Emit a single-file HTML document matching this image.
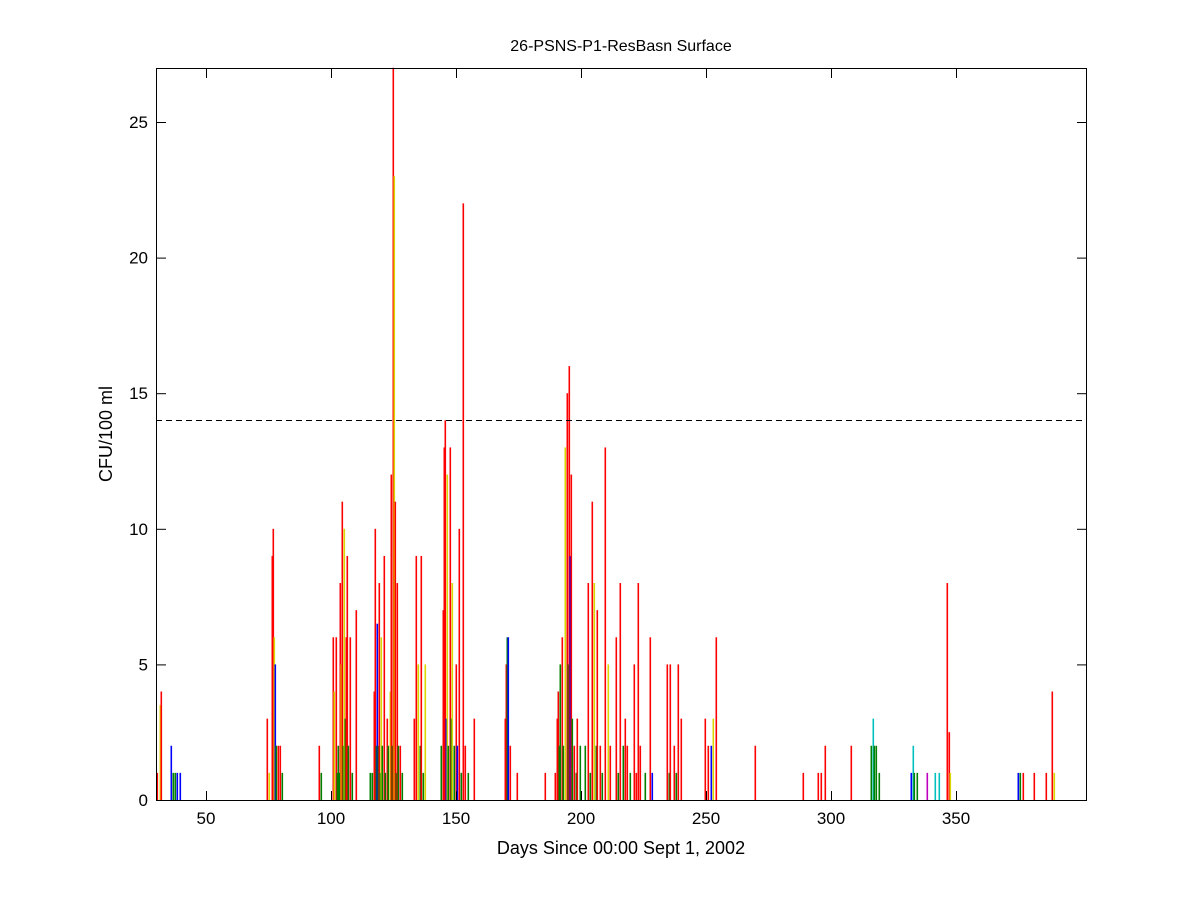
<!DOCTYPE html>
<html><head><meta charset="utf-8"><style>
html,body{margin:0;padding:0;background:#fff;}
svg{display:block;font-family:"Liberation Sans",Arial,sans-serif;}
</style></head><body>
<svg id="s" width="1200" height="900" viewBox="0 0 1200 900" xmlns="http://www.w3.org/2000/svg">
<rect x="0" y="0" width="1200" height="900" fill="#fff"/>
<g id="bars"></g>
<line x1="156" y1="420.5" x2="1086" y2="420.5" stroke="#000" stroke-width="1" stroke-dasharray="6,4" shape-rendering="crispEdges"/>
<rect x="156.5" y="68.5" width="930" height="732" fill="none" stroke="#000" stroke-width="1"/>
<g id="ticks" stroke="#000" stroke-width="1"></g>
<g font-size="17" fill="#000" id="labels"></g>
<text x="621" y="51" font-size="16" text-anchor="middle">26-PSNS-P1-ResBasn Surface</text>
<text x="621" y="854" font-size="18" text-anchor="middle">Days Since 00:00 Sept 1, 2002</text>
<text transform="translate(112,434) rotate(-90)" font-size="18" text-anchor="middle">CFU/100 ml</text>
</svg>
<script>
var R='#ff0000',Y='#d8d800',G='#008000',B='#0000ff',C='#00bfbf',M='#bf00bf';
var d=[
[157,1,R],[160,3.5,Y],[161,4,R],[171,2,B],[173,1,G],[175,1,G],[177,1,B],[180,1,B],
[267,3,R],[269,1,Y],[273,10,R],[272,9,R],[274,6,Y],[275,5,B],[276,2,G],[278,2,R],[280,2,R],[282,1,G],
[319,2,R],[321,1,G],[333,6,R],[334,4,Y],[336,6,R],[338,2,G],[340,8,R],[341,5,Y],[342,11,R],[343,2,G],[344,10,Y],[345,3,G],[346,6,R],[347,9,R],[348,2,G],[350,6,R],[352,1,G],[356,7,R],[339,1,G],[337,1,G],
[370,1,G],[372,1,G],[374,4,R],[375,10,R],[376,2,G],[377,6.5,B],[378,2,G],[379,8,R],[380,1,G],[381,6,Y],[382,2,G],[384,9,R],[385,1,G],[387,3,R],[388,2,G],[390,4,Y],[391,12,R],[392,2,G],[393,27,R],[394,23,Y],[395,11,R],[396,1,G],[397,8,R],[398,2,G],[400,2,R],[402,1,G],
[414,3,R],[416,9,R],[418,5,Y],[420,2,G],[421,9,R],[423,1,G],[425,5,Y],
[441,2,G],[443,7,R],[444,13,R],[445,14,R],[446,3,B],[447,12,Y],[448,2,G],[450,13,R],[451,3,G],[452,8,Y],[454,2,G],[456,5,R],[457,2,B],[459,10,R],[461,1,G],[463,22,R],[465,2,R],[468,1,G],[474,3,R],
[505,3,R],[506,5,R],[507,6,G],[508,6,B],[510,2,R],[517,1,R],
[545,1,R],[555,1,R],[557,3,R],[558,4,R],[559,2,G],[560,5,G],[562,6,R],[563,2,G],[565,13,Y],[567,15,R],[568,5,G],[569,16,R],[570,9,B],[571,12,R],[572,3,G],[574,2,R],[576,1,G],[577,3,R],[580,2,G],
[585,2,G],[588,8,R],[590,1,G],[592,11,R],[594,8,Y],[596,2,G],[597,7,R],[600,2,R],[602,1,G],[605,13,R],[608,5,Y],[610,2,R],[616,6,R],[618,1,G],[620,8,R],[623,2,G],[625,3,R],[627,2,R],[630,1,G],[634,5,R],[636,1,R],[638,8,R],[640,2,R],[645,1,G],[650,6,R],[652,1,B],
[667,5,R],[669,1,G],[670,5,R],[674,2,R],[676,1,G],[678,5,R],[681,3,R],[705,3,R],[708,2,R],[711,2,B],[713,3,Y],[716,6,R],[755,2,R],
[803,1,R],[818,1,R],[821,1,R],[825,2,R],[851,2,R],[871,2,G],[873,3,C],[874,2,G],[876,2,G],[879,1,G],
[911,1,B],[913,2,C],[914,1,G],[917,1,G],[927,1,M],[935,1,C],[939,1,C],[947,8,R],[949,2.5,R],[950,1,Y],
[1018,1,B],[1020,1,G],[1023,1,R],[1034,1,R],[1046,1,R],[1052,4,R],[1054,1,Y]
];
var g=document.getElementById('bars'),h='';
d.forEach(function(b){var hh=b[1]*27.12;h+='<rect x="'+(b[0]-0.5)+'" y="'+(800-hh)+'" width="1.6" height="'+hh+'" fill="'+b[2]+'"/>';});
g.innerHTML=h;
var t='',l='';
[[50,206],[100,331],[150,456],[200,581],[250,706],[300,831],[350,956]].forEach(function(a){
t+='<line x1="'+(a[1]+.5)+'" y1="800" x2="'+(a[1]+.5)+'" y2="791"/><line x1="'+(a[1]+.5)+'" y1="69" x2="'+(a[1]+.5)+'" y2="78"/>';
l+='<text x="'+a[1]+'" y="824" text-anchor="middle">'+a[0]+'</text>';});
for(var v=0;v<=25;v+=5){var y=800-v*27.12;
t+='<line x1="157" y1="'+(y+.5)+'" x2="166" y2="'+(y+.5)+'"/><line x1="1086" y1="'+(y+.5)+'" x2="1077" y2="'+(y+.5)+'"/>';
l+='<text x="148" y="'+(y+6)+'" text-anchor="end">'+v+'</text>';}
document.getElementById('ticks').innerHTML=t;
document.getElementById('labels').innerHTML=l;
</script>
</body></html>
